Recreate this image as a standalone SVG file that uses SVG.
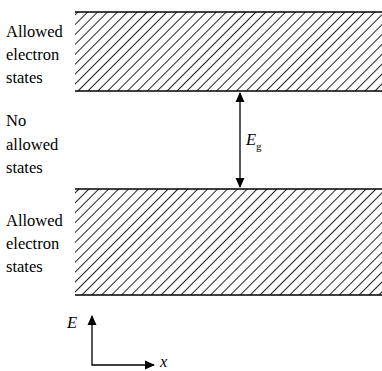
<svg xmlns="http://www.w3.org/2000/svg" width="382" height="371" viewBox="0 0 382 371">
<style>
.t{font-family:"Liberation Serif","DejaVu Serif",serif;font-size:16.5px;fill:#000}
.i{font-style:italic}
.ln{stroke:#000;stroke-width:1.6;fill:none}
.ar{stroke:#000;stroke-width:1.3;fill:none}
</style>
<defs>
<pattern id="hatch" width="7" height="7" patternUnits="userSpaceOnUse" patternTransform="rotate(45)">
<line x1="0" y1="0" x2="0" y2="7" stroke="#000" stroke-width="1.7"/>
</pattern>
<marker id="ah" viewBox="0 0 10 10" refX="9" refY="5" markerWidth="10" markerHeight="10" markerUnits="userSpaceOnUse" orient="auto-start-reverse">
<path d="M0,0.5 L10,5 L0,9.5 z" fill="#000"/>
</marker>
</defs>
<rect width="382" height="371" fill="#fff"/>
<g id="upper-band">
<rect x="75" y="12" width="307" height="79" fill="url(#hatch)"/>
<line class="ln" x1="75" y1="12" x2="382" y2="12"/>
<line class="ln" x1="75" y1="91" x2="382" y2="91"/>
</g>
<g id="lower-band">
<rect x="75" y="189" width="307" height="106" fill="url(#hatch)"/>
<line class="ln" x1="75" y1="189" x2="382" y2="189"/>
<line class="ln" x1="75" y1="295" x2="382" y2="295"/>
</g>
<g id="label-upper">
<text class="t" x="6" y="37">Allowed</text>
<text class="t" x="6" y="60">electron</text>
<text class="t" x="6" y="83">states</text>
</g>
<g id="label-gap">
<text class="t" x="6" y="126">No</text>
<text class="t" x="6" y="150">allowed</text>
<text class="t" x="6" y="173">states</text>
</g>
<g id="label-lower">
<text class="t" x="6" y="226">Allowed</text>
<text class="t" x="6" y="249">electron</text>
<text class="t" x="6" y="272">states</text>
</g>
<g id="eg-label">
<text class="t i" x="246" y="145">E<tspan font-size="11" font-style="normal" dy="5">g</tspan></text>
</g>
<g id="axes-labels">
<text class="t i" x="67" y="328">E</text>
<text class="t i" x="160" y="367">x</text>
</g>
<g id="connectors">
<line class="ar" x1="240" y1="93" x2="240" y2="187" marker-start="url(#ah)" marker-end="url(#ah)"/>
<polyline class="ar" points="92,316 92,365 154,365" marker-start="url(#ah)" marker-end="url(#ah)"/>
</g>
</svg>
